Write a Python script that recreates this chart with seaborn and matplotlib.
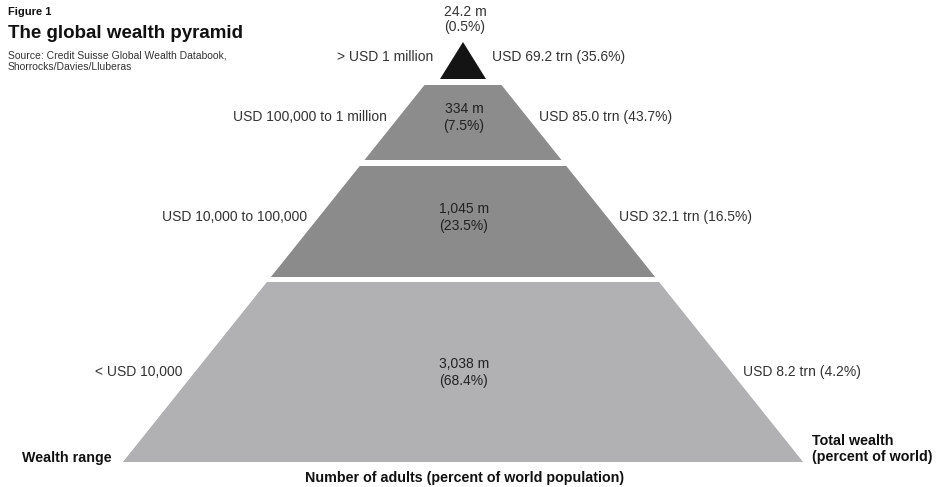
import matplotlib
matplotlib.use("Agg")
import matplotlib.pyplot as plt
import seaborn as sns

# data
wealth_ranges = ["> USD 1 million", "USD 100,000 to 1 million", "USD 10,000 to 100,000", "< USD 10,000"]
adults_m = ["24.2", "334", "1,045", "3,038"]
adults_pct = [0.5, 7.5, 23.5, 68.4]
wealth_trn = [69.2, 85.0, 32.1, 8.2]
wealth_pct = [35.6, 43.7, 16.5, 4.2]

# layout (pixel space, y down)
tier_top = [42, 85, 166, 282]
tier_bottom = [79, 160, 277, 462]
label_y = [57, 117, 217, 372]
tier_colors = ["#141414", "#8c8c8c", "#8b8b8b", "#b1b1b3"]
cx = 463


def half_width(i, y):
    if i == 0:
        return (y - 42) * 23 / 37
    return 38.5 + (y - 85) * 0.8


sns.set_theme(style="white")
plt.rcParams["font.family"] = ["Liberation Sans", "DejaVu Sans"]

fig = plt.figure(figsize=(9.42, 4.87), dpi=100)
ax = fig.add_axes([0, 0, 1, 1])
ax.set_xlim(0, 942)
ax.set_ylim(487, 0)
ax.axis("off")

fs = 10
for i in range(4):
    t, b = tier_top[i], tier_bottom[i]
    ht, hb = half_width(i, t), half_width(i, b)
    ax.fill([cx - ht, cx + ht, cx + hb, cx - hb], [t, t, b, b],
            color=tier_colors[i], lw=0)

    y = label_y[i]
    gap = 20 if i == 0 else 12
    hw = half_width(i, y)
    ax.text(cx - hw - gap, y, wealth_ranges[i], ha="right", va="center",
            fontsize=fs, color="#333333")
    ax.text(cx + hw + gap, y, f"USD {wealth_trn[i]:.1f} trn ({wealth_pct[i]}%)",
            ha="left", va="center", fontsize=fs, color="#333333")
    if i == 0:
        ax.text(cx + 2, 12, f"{adults_m[i]} m", ha="center", va="center",
                fontsize=fs, color="#333333")
        ax.text(cx + 2, 27, f"({adults_pct[i]}%)", ha="center", va="center",
                fontsize=fs, color="#333333")
    else:
        ax.text(cx + 1, y - 8, f"{adults_m[i]} m", ha="center", va="center",
                fontsize=fs, color="#222222")
        ax.text(cx + 1, y + 9, f"({adults_pct[i]}%)", ha="center", va="center",
                fontsize=fs, color="#222222")

# titles
ax.text(8, 12, "Figure 1", fontsize=8, fontweight="bold", color="#111111", va="center")
ax.text(8, 33, "The global wealth pyramid", fontsize=13.5, fontweight="bold",
        color="#111111", va="center")
ax.text(8, 55, "Source: Credit Suisse Global Wealth Databook,", fontsize=7.5,
        color="#333333", va="center")
ax.text(8, 67, "Shorrocks/Davies/Lluberas", fontsize=7.5, color="#333333", va="center")

# axis-like labels
lbl = dict(fontsize=10.3, fontweight="bold", color="#111111", va="center")
ax.text(22, 458, "Wealth range", **lbl)
ax.text(812, 441, "Total wealth", **lbl)
ax.text(812, 457, "(percent of world)", **lbl)
ax.text(465, 478, "Number of adults (percent of world population)", ha="center", **lbl)

fig.savefig("out.png", dpi=100)
